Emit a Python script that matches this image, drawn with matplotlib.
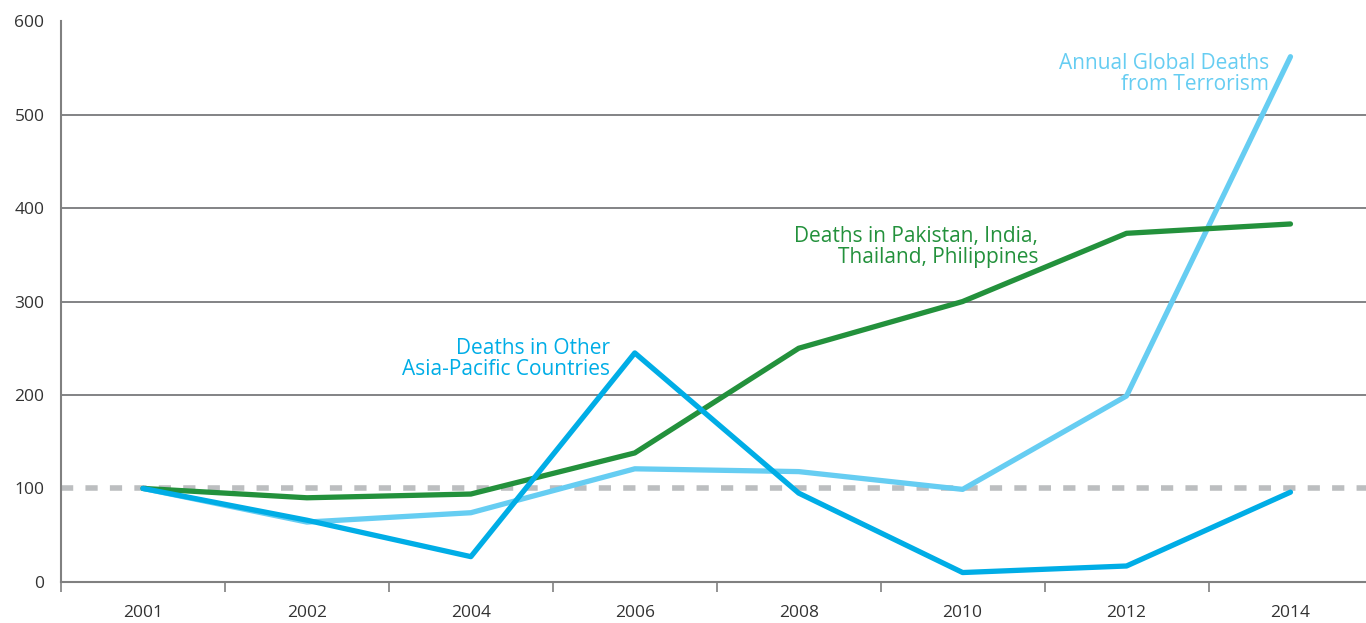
import matplotlib.pyplot as plt

plt.rcParams['font.family'] = ['Open Sans', 'DejaVu Sans']

years = ['2001', '2002', '2004', '2006', '2008', '2010', '2012', '2014']
global_deaths = [100, 64, 74, 121, 118, 99, 199, 562]
pak_ind_tha_phi = [100, 90, 94, 138, 250, 300, 373, 383]
other_asia_pacific = [100, 66, 27, 245, 95, 10, 17, 96]

c_global = '#66cdf2'
c_green = '#23913c'
c_blue = '#00ade6'

fig = plt.figure(figsize=(13.66, 6.23), dpi=100)
ax = fig.add_axes([0.0447, 0.066, 0.96, 0.9])

x = list(range(len(years)))

for y in [200, 300, 400, 500]:
    ax.axhline(y, color='#6d6e71', lw=1.2, zorder=1)
ax.axhline(100, color='#bcbec0', lw=4, ls=(0, (2.2, 2.2)), zorder=1)

ax.plot(x, global_deaths, color=c_global, lw=3.8, solid_capstyle='round', zorder=3)
ax.plot(x, pak_ind_tha_phi, color=c_green, lw=3.8, solid_capstyle='round', zorder=4)
ax.plot(x, other_asia_pacific, color=c_blue, lw=3.8, solid_capstyle='round', zorder=5)

ax.text(6.87, 543, 'Annual Global Deaths\nfrom Terrorism', color=c_global, fontsize=15,
        ha='right', va='center', linespacing=1.0)
ax.text(5.46, 358, 'Deaths in Pakistan, India,\nThailand, Philippines', color=c_green, fontsize=15,
        ha='right', va='center', linespacing=1.0)
ax.text(2.85, 238, 'Deaths in Other\nAsia-Pacific Countries', color=c_blue, fontsize=15,
        ha='right', va='center', linespacing=1.0)

ax.set_xlim(-0.5, len(years) - 0.5)
ax.set_ylim(0, 600)
ax.set_yticks([0, 100, 200, 300, 400, 500, 600])
ax.tick_params(axis='y', length=0, pad=12, labelsize=12.5, labelcolor='#333333')

ax.set_xticks([i - 0.5 for i in range(len(years) + 1)])
ax.set_xticklabels([])
ax.set_xticks(x, minor=True)
ax.set_xticklabels(years, minor=True)
ax.tick_params(axis='x', which='major', length=7, width=1.2, color='#808080', direction='out')
ax.tick_params(axis='x', which='minor', length=0, pad=17, labelsize=12.5, labelcolor='#333333')

for s in ['top', 'right']:
    ax.spines[s].set_visible(False)
for s in ['left', 'bottom']:
    ax.spines[s].set_color('#808080')
    ax.spines[s].set_linewidth(1.5)

fig.savefig('out.png', dpi=100)
